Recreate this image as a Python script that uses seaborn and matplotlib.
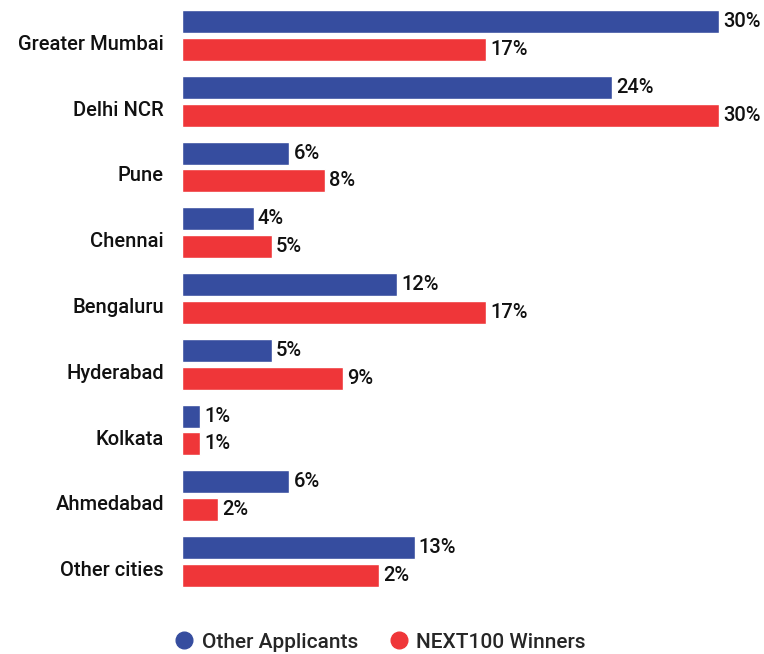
import matplotlib
matplotlib.use("Agg")
import matplotlib.pyplot as plt
import matplotlib.transforms as mtransforms
import seaborn as sns
import pandas as pd
from matplotlib.lines import Line2D

# data
cities = ["Greater Mumbai", "Delhi NCR", "Pune", "Chennai", "Bengaluru",
          "Hyderabad", "Kolkata", "Ahmedabad", "Other cities"]
other_applicants = [30, 24, 6, 4, 12, 5, 1, 6, 13]
next100_winners = [17, 30, 8, 5, 17, 9, 1, 2, 11]
# printed labels (the last winners label reads 2% in the source)
other_labels = ["30%", "24%", "6%", "4%", "12%", "5%", "1%", "6%", "13%"]
winner_labels = ["17%", "30%", "8%", "5%", "17%", "9%", "1%", "2%", "2%"]
series = ["Other Applicants", "NEXT100 Winners"]
colors = ["#364d9f", "#ef3639"]

df = pd.DataFrame({
    "city": cities * 2,
    "share": other_applicants + next100_winners,
    "group": [series[0]] * len(cities) + [series[1]] * len(cities),
})

sns.set_style("white")
plt.rcParams["font.family"] = ["Roboto", "DejaVu Sans"]

fig = plt.figure(figsize=(7.64, 6.54), dpi=100)
ax = fig.add_axes([182 / 764, 1 - 594.4 / 654, (719 - 182) / 764, 591.8 / 654])

sns.barplot(data=df, y="city", x="share", hue="group", orient="h",
            palette=colors, width=0.84, gap=0.17, saturation=1,
            legend=False, ax=ax)

ax.set_xlim(0, 30)
ax.set_ylim(8.5, -0.5)
ax.set_xlabel("")
ax.set_ylabel("")
ax.set_xticks([])
ax.tick_params(axis="y", length=0, pad=13)
# city names sit a little below the group centre in the source
shift = mtransforms.ScaledTranslation(0, -7 / 100, fig.dpi_scale_trans)
for lbl in ax.get_yticklabels():
    lbl.set_fontsize(14.5)
    lbl.set_fontweight("medium")
    lbl.set_color("#111111")
    lbl.set_transform(lbl.get_transform() + shift)
sns.despine(ax=ax, left=True, bottom=True)

for cont, labels in zip(ax.containers, [other_labels, winner_labels]):
    texts = ax.bar_label(cont, labels=labels, padding=3, fontsize=14.5,
                         fontweight="medium", color="#111111")
    for t in texts:
        t.set_clip_on(False)

handles = [Line2D([], [], marker="o", linestyle="", markersize=12,
                  markerfacecolor=c, markeredgecolor=c) for c in colors]
fig.legend(handles, series, loc="center", bbox_to_anchor=(380 / 764, 1 - 642 / 654),
           ncol=2, frameon=False, handlelength=1.0, handletextpad=0.32,
           columnspacing=1.5, prop={"size": 15, "weight": "medium"})

fig.savefig("out.png", dpi=100)
